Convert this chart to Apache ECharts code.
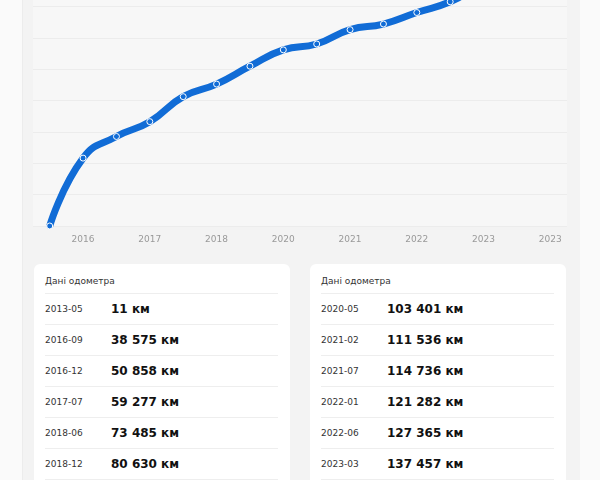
<!DOCTYPE html>
<html>
<head>
<meta charset="utf-8">
<script src="https://cdn.jsdelivr.net/npm/echarts@6/dist/echarts.min.js"></script>
<style>
  html, body { margin: 0; padding: 0; width: 600px; height: 480px; overflow: hidden; background: #fafafa; font-family: "DejaVu Sans", sans-serif; }
  #outer { position: absolute; left: 22px; top: -20px; width: 558px; height: 520px; background: #f3f3f3; border-left: 1px solid #ececec; box-sizing: border-box; }
  #chart { position: absolute; left: 22px; top: -80px; width: 558px; height: 330px; }
  .card { position: absolute; top: 264px; width: 256px; height: 240px; background: #ffffff; border-radius: 6px; box-sizing: border-box; padding: 0 12px 0 11px; }
  .title { padding-top: 11px; height: 18px; line-height: 12px; font-size: 9px; color: #333; border-bottom: 1px solid #eeeeee; }
  .row { display: flex; align-items: center; height: 30px; border-bottom: 1px solid #eeeeee; }
  .date { width: 66px; font-size: 9px; color: #333; }
  .val { font-size: 12px; font-weight: bold; color: #111; }
</style>
</head>
<body>
<div id="outer"></div>
<div id="chart"></div>
<div class="card" id="cardL" style="left:34px"></div>
<div class="card" id="cardR" style="left:310px"></div>
<script>
// Chart categories (reading dates) and odometer values (km)
var dates = ["2013-05","2016-09","2016-12","2017-07","2018-06","2018-12","2019-07","2020-01",
             "2020-05","2021-02","2021-07","2022-01","2022-06","2023-03","2023-06","2023-09"];
var odometer = [11, 38575, 50858, 59277, 73485, 80630, 90790, 100060,
                103401, 111536, 114736, 121282, 127365, 137457, 142000, 147000];

// Visible table rows
var tableTitle = "Дані одометра";
var leftDates = ["2013-05","2016-09","2016-12","2017-07","2018-06","2018-12"];
var leftValues = [11, 38575, 50858, 59277, 73485, 80630];
var rightDates = ["2020-05","2021-02","2021-07","2022-01","2022-06","2023-03"];
var rightValues = [103401, 111536, 114736, 121282, 127365, 137457];

function fmt(v) {
  return String(v).replace(/\B(?=(\d{3})+(?!\d))/g, " ") + " км";
}
function buildCard(el, ds, vs) {
  var html = '<div class="title">' + tableTitle + '</div>';
  for (var i = 0; i < ds.length; i++) {
    html += '<div class="row"><div class="date">' + ds[i] + '</div><div class="val">' + fmt(vs[i]) + '</div></div>';
  }
  el.innerHTML = html;
}
buildCard(document.getElementById('cardL'), leftDates, leftValues);
buildCard(document.getElementById('cardR'), rightDates, rightValues);

var chart = echarts.init(document.getElementById('chart'), null, { renderer: 'canvas' });
chart.setOption({
  animation: false,
  grid: { left: 11, right: 13, top: 24, bottom: 24, show: true, backgroundColor: '#f7f7f7', borderWidth: 0 },
  xAxis: {
    type: 'category',
    data: dates,
    boundaryGap: true,
    axisLine: { show: false },
    axisTick: { show: false },
    axisLabel: {
      interval: function (i) { return i % 2 === 1; },
      formatter: function (v) { return v.slice(0, 4); },
      color: '#999999',
      fontSize: 9,
      fontFamily: 'DejaVu Sans',
      margin: 9
    },
    splitLine: { show: false }
  },
  yAxis: {
    type: 'value',
    min: 0,
    max: 160200,
    interval: 17800,
    axisLabel: { show: false },
    axisLine: { show: false },
    axisTick: { show: false },
    splitLine: { show: true, lineStyle: { color: '#ececec', width: 1 } }
  },
  series: [{
    type: 'line',
    data: odometer,
    smooth: 0.5,
    symbol: 'circle',
    symbolSize: 6,
    showSymbol: true,
    lineStyle: { color: '#116cd6', width: 7 },
    itemStyle: { color: '#116cd6', borderColor: '#ffffff', borderWidth: 1 },
    z: 3
  }]
});
</script>
</body>
</html>
